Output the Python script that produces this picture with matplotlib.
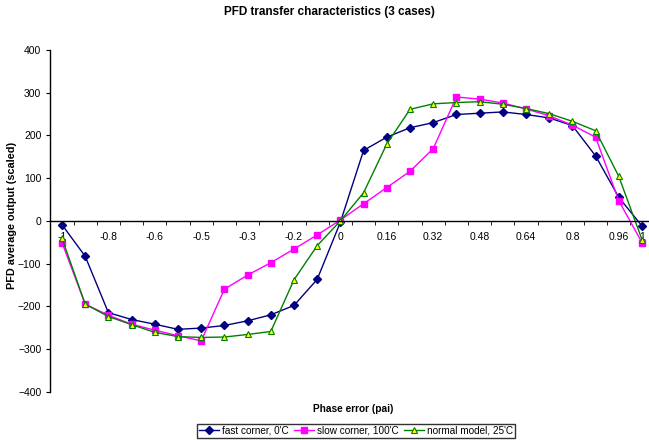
import matplotlib
matplotlib.use("Agg")
import matplotlib.pyplot as plt
import numpy as np

plt.rcParams['font.family'] = ['Liberation Sans', 'DejaVu Sans']

categories = ["-1", "-0.92", "-0.8", "-0.75", "-0.6", "-0.58", "-0.5", "-0.42", "-0.3", "-0.25", "-0.2", "-0.08",
              "0", "0.08", "0.16", "0.24", "0.32", "0.4", "0.48", "0.56", "0.64", "0.72", "0.8", "0.88", "0.96", "1"]
shown_labels = {0, 2, 4, 6, 8, 10, 12, 14, 16, 18, 20, 22, 24, 25}

fast = [-9, -83, -215, -231, -242, -254, -251, -245, -234, -220, -198, -137,
        -3, 165, 196, 218, 230, 249, 252, 255, 249, 241, 223, 152, 55, -12]
slow = [-51, -195, -221, -242, -256, -269, -281, -160, -127, -98, -66, -33,
        2, 40, 78, 116, 169, 290, 285, 276, 262, 246, 224, 196, 47, -51]
normal = [-41, -195, -224, -243, -261, -271, -273, -272, -266, -259, -138, -58,
          0, 66, 180, 261, 274, 277, 279, 273, 263, 251, 233, 211, 104, -44]

fig = plt.figure(figsize=(6.49, 4.40), dpi=100)
ax = fig.add_axes([50.4/649, 48.3/440, 603.2/649, 341.7/440])

x = np.arange(len(categories))
ax.plot(x, fast, color='#000080', lw=1, marker='D', ms=4, mfc='#000080', mec='#000080',
        label='fast corner, 0\'C')
ax.plot(x, slow, color='#FF00FF', lw=1, marker='s', ms=4, mfc='#FF00FF', mec='#FF00FF',
        label='slow corner, 100\'C')
ax.plot(x, normal, color='#008000', lw=1, marker='^', ms=5, mfc='#FFFF00', mec='#008000', mew=0.8,
        label='normal model, 25\'C')

ax.set_xlim(-0.5, len(categories) - 0.5)
ax.set_ylim(-400, 400)
ax.set_yticks(np.arange(-400, 401, 100))

ax.spines['top'].set_visible(False)
ax.spines['right'].set_visible(False)
ax.spines['bottom'].set_position(('data', 0))
ax.spines['left'].set_linewidth(1)
ax.spines['bottom'].set_linewidth(1)

ax.set_xticks(x)
ax.set_xticklabels([c if i in shown_labels else '' for i, c in enumerate(categories)])
ax.set_xticks(np.arange(0.5, len(categories) - 0.5, 1), minor=True)
ax.tick_params(axis='x', which='major', length=0, pad=8, labelsize=7.5)
ax.tick_params(axis='x', which='minor', length=3, direction='out')
ax.tick_params(axis='y', length=3, direction='out', labelsize=7.5)

fig.text(329/649, 1 - 12/440, 'PFD transfer characteristics (3 cases)', ha='center', va='center',
         fontsize=8.5, fontweight='bold')
fig.text(12.5/649, 1 - 215/440, 'PFD average output (scaled)', ha='center', va='center',
         rotation=90, fontsize=7.8, fontweight='bold')
fig.text(353/649, 1 - 409/440, 'Phase error (pai)', ha='center', va='center',
         fontsize=7.3, fontweight='bold')

leg = fig.legend(loc='center', bbox_to_anchor=(356/649, 1 - 430.5/440), ncol=3, fontsize=7.2,
                 frameon=True, fancybox=False, handlelength=2.0, handletextpad=0.3,
                 columnspacing=0.5, borderpad=0.2, borderaxespad=0)
leg.get_frame().set_edgecolor('black')
leg.get_frame().set_linewidth(1)

fig.savefig('out.png', dpi=100)
